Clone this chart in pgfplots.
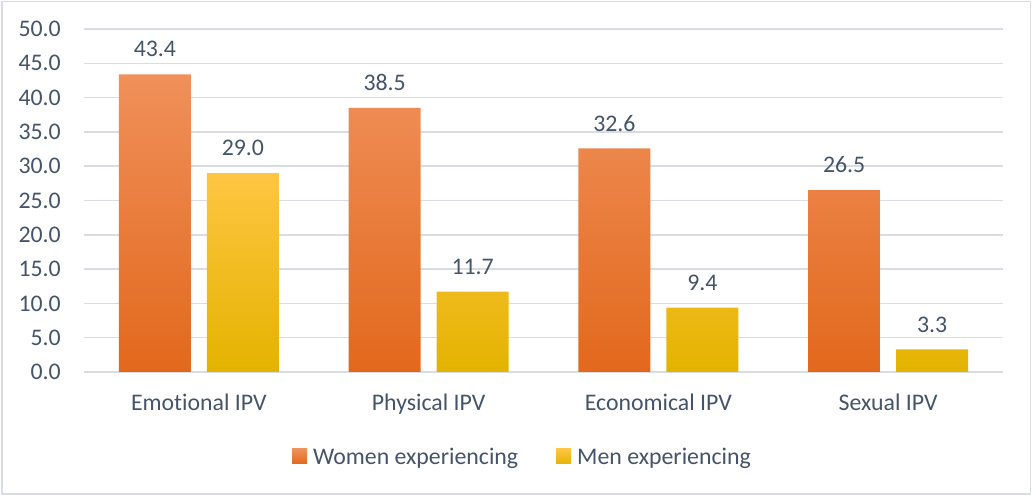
\documentclass[border=0pt]{standalone}
\usepackage{fontspec}
\setmainfont{Carlito}[Ligatures=NoCommon]
\usepackage{pgfplots}
\pgfplotsset{compat=1.18}
\definecolor{txt}{HTML}{44546A}
\definecolor{gridc}{HTML}{D9DDE3}
\definecolor{framec}{HTML}{D9DDE3}
\definecolor{oTop}{HTML}{F0905A}
\definecolor{oMid}{HTML}{F47D2E}
\definecolor{oBot}{HTML}{E2681C}
\definecolor{yTop}{HTML}{FFC542}
\definecolor{yMid}{HTML}{FFC000}
\definecolor{yBot}{HTML}{E3B300}
\pgfkeys{/pgf/number format/.cd,fixed,fixed zerofill,precision=1,assume math mode=true}
\begin{document}
\begin{tikzpicture}[x=1bp,y=1bp,font=\fontsize{23.9}{28}\selectfont]
\path[use as bounding box] (0,0) rectangle (1032,496);
\draw[framec, line width=1.5bp] (1.75,1.75) rectangle (1030.25,494.25);
\begin{axis}[
  at={(84bp,124bp)}, anchor=south west,
  scale only axis, width=919bp, height=343bp,
  ymin=0, ymax=50, ytick={0,5,...,50},
  xmin=-0.5, xmax=3.5, xtick={0,1,2,3},
  xticklabels={Emotional IPV, Physical IPV, Economical IPV, Sexual IPV},
  axis line style={draw=none},
  major tick length=0pt,
  ymajorgrids, grid style={gridc, line width=1.5bp},
  ybar=16bp, bar width=72bp,
  tick label style={text=txt},
  yticklabel style={anchor=east, inner sep=0pt, xshift=-23bp},
  xticklabel style={anchor=base, inner sep=0pt, yshift=-39bp},
  nodes near coords,
  nodes near coords style={text=txt, anchor=base, inner sep=0pt, yshift=17.3bp},
  legend columns=-1,
  legend image code/.code={\fill[#1] (0bp,-7bp) rectangle (15bp,8bp);},
  legend style={at={(0.2263,-0.2478)}, anchor=west, draw=none, fill=none, inner sep=0pt,
    text=txt, nodes={inner sep=0pt},
    /tikz/every odd column/.append style={column sep=6bp},
    /tikz/every even column/.append style={column sep=38bp}},
]
\addplot[draw=none, top color=oTop, middle color=oMid, bottom color=oBot]
  coordinates {(0,43.4) (1,38.5) (2,32.6) (3,26.5)};
\addplot[draw=none, top color=yTop, middle color=yMid, bottom color=yBot]
  coordinates {(0,29.0) (1,11.7) (2,9.4) (3,3.3)};
\legend{Women experiencing, Men experiencing}
\end{axis}
\end{tikzpicture}
\end{document}
